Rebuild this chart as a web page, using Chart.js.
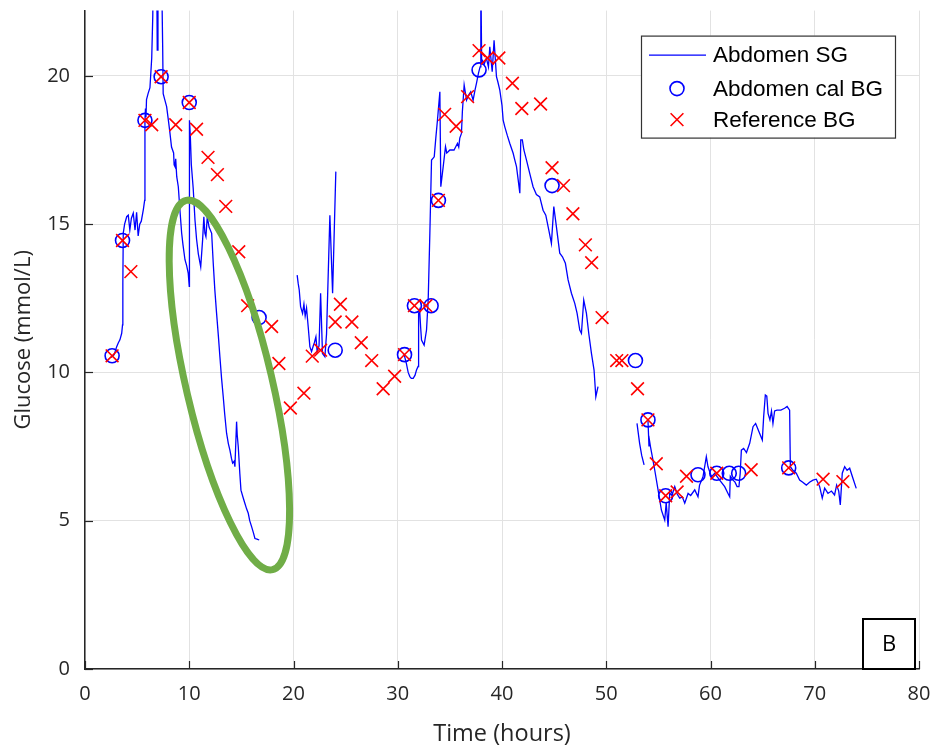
<!DOCTYPE html>
<html>
<head>
<meta charset="utf-8">
<script src="https://cdn.jsdelivr.net/npm/chart.js@4"></script>
<style>
  html, body { margin: 0; padding: 0; background: #fff; }
</style>
</head>
<body>
<canvas id="glucose_graph" width="935" height="751"></canvas>
<script>
// sensor glucose trace (null = gap in the record)
const sgTime = [
  2.5, 2.8, 3.04, 3.2, 3.35, 3.52, 3.6, 3.63, 3.67, 3.8, 4.0, 4.15, 4.3, 4.45, 4.63, 4.8, 4.95, 5.1, 5.25, 5.4, 5.6, 5.72,
  5.75, 5.8, 5.85, 5.9, 6.05, 6.23, 6.4, 6.5, 6.55, 6.88, 6.93, 7.0, 7.35, 7.45, 7.5, 7.65, 7.83, 8.0, 8.15, 8.3, 8.5,
  8.55, 8.63, 8.7, 8.8, 8.95, 9.1, 9.27, 9.4, 9.59, 9.75, 9.9, 10.0, 10.02, 10.1, 10.2, 10.38, 10.55, 10.7, 10.87, 11.1,
  11.28, 11.4, 11.5, 11.6, 11.73, 11.9, 12.15, 12.3, 12.45, 12.62, 12.8, 12.94, 13.1, 13.26, 13.4, 13.58, 13.75, 13.9,
  14.05, 14.16, 14.3, 14.38, 14.54, 14.6, 14.7, 14.85, 14.96, 15.15, 15.34, 15.5, 15.66, 15.8, 15.98, 16.15, 16.3, 16.5, 16.71,
  16.8,
  20.35, 20.45, 20.55, 20.68, 20.87, 21.0, 21.12, 21.25, 21.41, 21.57, 21.73, 21.9, 22.0, 22.15, 22.27, 22.45, 22.6, 22.78,
  23.01, 23.17, 23.49, 23.75, 24.06,
  24.2,
  30.5, 30.65, 30.83, 31.0, 31.16, 31.3, 31.48, 31.65, 31.8, 31.95, 32.0, 32.1, 32.2, 32.28, 32.53, 32.76, 32.92, 33.08,
  33.24, 33.5, 33.65, 33.81, 34.04, 34.13, 34.36, 34.58, 34.7, 34.83, 35.0, 35.16, 35.4, 35.55, 35.73, 35.85, 35.95, 36.11,
  36.2, 36.37, 36.6, 36.8, 37.0, 37.23, 37.4, 37.55, 37.75, 37.9, 37.97, 38.05, 38.1, 38.3, 38.5, 38.7, 38.83, 39.06, 39.24,
  39.47, 39.6, 39.79, 40.0, 40.11, 40.27, 40.5, 40.75, 41.07, 41.2, 41.39, 41.55, 41.71, 41.8, 41.95, 42.1, 42.35, 42.66,
  42.98, 43.3, 43.62, 43.94, 44.2, 44.49, 44.74, 44.97, 45.22, 45.54, 45.8, 46.08, 46.34, 46.66, 46.98, 47.2, 47.46, 47.62,
  47.84, 48.1, 48.32, 48.58, 48.83, 49.0, 49.21,
  49.4,
  52.95, 53.2, 53.4, 53.63,
  53.8,
  54.0, 54.1, 54.15, 54.24, 54.45, 54.65, 54.97, 55.29, 55.61, 55.75, 55.93, 56.09, 56.3, 56.57, 56.8, 57.05, 57.3, 57.53,
  57.85, 58.1, 58.49, 58.8, 58.95, 59.28, 59.6, 59.76, 60.09, 60.4, 60.88, 61.36, 61.68, 61.84, 61.9, 62.16, 62.35, 62.55,
  62.73, 62.85, 62.96, 63.18, 63.45, 63.76, 64.08, 64.33, 64.65, 64.97, 65.1, 65.26, 65.4, 65.52, 65.7, 65.85, 65.99, 66.15,
  66.38, 66.75, 67.11, 67.35, 67.59, 67.66, 67.9, 68.23, 68.55, 68.85, 69.19, 69.5, 69.83, 70.15, 70.47, 70.72, 70.95, 71.27,
  71.6, 71.9, 72.1, 72.3, 72.45, 72.64, 72.87, 73.1, 73.35, 73.66, 73.98
];
const sgGlucose = [
  10.5, 10.6, 10.87, 11.0, 11.1, 11.32, 11.6, 13.0, 14.7, 15.0, 15.25, 15.3, 14.8, 15.2, 15.37, 14.8, 15.4, 14.6, 15.0, 15.1, 15.5, 15.8,
  18.5, 18.9, 18.6, 19.2, 19.4, 19.6, 20.6, 22.0, 23.5, 23.5, 20.87, 23.5, 23.5, 21.0, 19.4, 19.2, 18.96, 18.5, 18.07, 17.6, 17.4,
  17.0, 16.94, 17.2, 16.6, 16.26, 15.5, 14.7, 14.3, 13.8, 13.6, 13.35, 12.9, 18.5, 18.0, 17.0, 16.2, 15.14, 14.5, 14.0, 13.56,
  14.46, 15.25, 14.7, 14.58, 15.25, 14.9, 14.69, 13.69, 12.8, 12.0, 11.2, 10.53, 9.8, 9.18, 8.6, 7.95, 7.6, 7.38,
  7.1, 6.94, 7.0, 6.82, 8.34, 7.9, 7.5, 6.6, 6.03, 5.8, 5.58, 5.4, 5.25, 5.0, 4.8, 4.6, 4.4, 4.38, 4.35,
  null,
  13.28, 13.0, 12.78, 12.22, 11.99, 12.3, 11.9, 12.17, 11.54, 10.87, 10.7, 10.9, 11.0, 11.2, 10.7, 10.9, 12.67, 10.64,
  10.53, 11.3, 15.3, 12.67, 16.77,
  null,
  10.6, 10.55, 10.3, 10.0, 9.86, 9.8, 9.8, 9.9, 10.08, 10.2, 11.99, 12.1, 11.5, 11.09, 10.92, 11.43, 12.44, 14.69,
  17.16, 17.27, 17.9, 18.51, 19.46, 16.26, 16.94, 17.61, 17.4, 17.44, 17.5, 17.5, 17.5, 17.6, 17.72, 17.6, 17.9, 18.06,
  18.8, 19.69, 19.18, 19.35, 19.46, 19.18, 19.5, 19.75, 20.1, 20.3, 23.5, 20.4, 20.53, 20.4, 20.6, 20.3, 20.98, 20.14, 21.2,
  19.97, 19.8, 19.52, 19.0, 18.51, 18.28, 18.0, 17.72, 17.39, 17.2, 16.94, 16.5, 16.04, 17.84, 17.84, 17.5, 17.16, 16.71,
  16.26, 16.0, 15.92, 15.47, 15.3, 14.8, 14.35, 15.59, 14.91, 14.02, 13.9, 13.68, 13.12, 12.67, 12.33, 12.0, 11.43, 11.32,
  12.44, 11.99, 11.32, 10.64, 10.08, 9.18, 9.52,
  null,
  8.28, 7.61, 7.2, 6.88,
  null,
  8.4, 7.5, 7.7, 7.5, 7.1, 6.71, 6.04, 5.36, 5.02, 5.6, 4.8, 5.93, 5.85, 6.15, 5.9, 5.76, 5.8, 5.59,
  5.92, 5.85, 6.04, 5.81, 6.2, 6.48, 7.16, 6.82, 6.48, 6.6, 6.37, 6.15, 5.92, 5.81, 6.5, 6.37, 6.3, 6.15,
  6.15, 6.6, 7.38, 7.44, 7.3, 7.61, 8.17, 8.28, 8.0, 7.72, 8.51, 9.24, 9.2, 8.62, 8.4, 8.7, 8.28, 8.7,
  8.73, 8.73, 8.79, 8.85, 8.73, 6.82, 6.7, 6.6, 6.37, 6.3, 6.2, 6.3, 6.37, 6.4, 6.15, 5.76, 6.1, 5.92,
  6.0, 5.87, 6.2, 6.0, 5.53, 6.6, 6.82, 6.7, 6.77, 6.43, 6.09
];

// calibration blood glucose
const calTime = [2.6, 3.6, 5.75, 7.3, 10.0, 16.7, 24.0, 30.65, 31.6, 33.2, 33.9, 37.8, 44.8, 52.8, 54.0, 55.7, 58.8, 60.6, 61.8, 62.7, 67.5];
const calGlucose = [10.56, 14.45, 18.5, 19.97, 19.1, 11.85, 10.75, 10.6, 12.25, 12.25, 15.8, 20.2, 16.3, 10.4, 8.4, 5.84, 6.55, 6.6, 6.6, 6.6, 6.78];

// reference blood glucose
const refTime = [2.6, 3.6, 4.4, 5.75, 6.4, 7.3, 8.7, 10.0, 10.7, 11.8, 12.7, 13.5, 14.75, 15.6, 17.9, 18.6, 19.7, 21.0, 21.8, 22.6,
  24.0, 24.5, 25.6, 26.5, 27.5, 28.6, 29.7, 30.65, 31.6, 32.7, 33.9, 34.5, 35.6, 36.7, 37.8, 38.6, 39.7, 41.0, 41.9, 43.7,
  44.8, 45.9, 46.8, 48.0, 48.6, 49.6, 51.0, 51.5, 53.0, 54.0, 54.8, 55.7, 56.8, 57.7, 60.6, 63.9, 67.5, 70.8, 72.7];
const refGlucose = [10.56, 14.45, 13.4, 18.5, 18.35, 19.97, 18.35, 19.1, 18.2, 17.25, 16.67, 15.6, 14.07, 12.25, 11.55, 10.3, 8.8, 9.3, 10.55, 10.75,
  11.7, 12.3, 11.7, 11.0, 10.4, 9.45, 9.87, 10.6, 12.25, 12.25, 15.8, 18.7, 18.3, 19.3, 20.85, 20.6, 20.6, 19.75, 18.9, 19.05,
  16.9, 16.3, 15.35, 14.3, 13.7, 11.85, 10.4, 10.4, 9.45, 8.4, 6.92, 5.84, 5.97, 6.5, 6.6, 6.72, 6.78, 6.4, 6.32];

const seriesNames = ['Abdomen SG', 'Abdomen cal BG', 'Reference BG'];
// green highlight ellipse: the two tips of its long axis, in data units
const ellipseTips = [[9.7, 15.8], [18.0, 3.35]];
const panelLabel = 'B';

const TEXT = '#262626';
const FONT = "'Open Sans', sans-serif";

function pairs(xs, ys) {
  return xs.map((x, i) => ({x: x, y: ys[i]}));
}

// keep the plot area where the layout padding puts it
function fixBox(scale, size) {
  if (scale.isHorizontal()) scale.height = size; else scale.width = size;
  scale.paddingTop = 0;
  scale.paddingBottom = 0;
  scale.paddingLeft = 0;
  scale.paddingRight = 0;
}

// ticks drawn inward like the original figure
const insideTicks = {
  id: 'insideTicks',
  afterDatasetsDraw(chart) {
    const {ctx, chartArea, scales: {x, y}} = chart;
    ctx.save();
    ctx.strokeStyle = TEXT;
    ctx.lineWidth = 1.2;
    x.ticks.forEach(t => {
      const px = Math.round(x.getPixelForValue(t.value)) + 0.5;
      ctx.beginPath();
      ctx.moveTo(px, chartArea.bottom);
      ctx.lineTo(px, chartArea.bottom - 8);
      ctx.stroke();
    });
    y.ticks.forEach(t => {
      const py = Math.round(y.getPixelForValue(t.value)) + 0.5;
      ctx.beginPath();
      ctx.moveTo(chartArea.left, py);
      ctx.lineTo(chartArea.left + 8, py);
      ctx.stroke();
    });
    ctx.restore();
  }
};

const highlight = {
  id: 'highlight',
  afterDatasetsDraw(chart) {
    const {ctx, scales: {x, y}} = chart;
    const p1 = [x.getPixelForValue(ellipseTips[0][0]), y.getPixelForValue(ellipseTips[0][1])];
    const p2 = [x.getPixelForValue(ellipseTips[1][0]), y.getPixelForValue(ellipseTips[1][1])];
    const cx = (p1[0] + p2[0]) / 2, cy = (p1[1] + p2[1]) / 2;
    const rx = Math.hypot(p2[0] - p1[0], p2[1] - p1[1]) / 2;
    const ang = Math.atan2(p2[1] - p1[1], p2[0] - p1[0]);
    ctx.save();
    ctx.strokeStyle = '#70ad47';
    ctx.lineWidth = 7;
    ctx.beginPath();
    ctx.ellipse(cx, cy, rx, 43, ang, 0, Math.PI * 2);
    ctx.stroke();
    ctx.restore();
  }
};

const boxLegend = {
  id: 'boxLegend',
  afterDraw(chart) {
    const {ctx, chartArea} = chart;
    const left = chartArea.right - 278, top = chartArea.top + 25;
    const w = 254, h = 102;
    ctx.save();
    ctx.fillStyle = '#fff';
    ctx.fillRect(left, top, w, h);
    ctx.strokeStyle = '#333';
    ctx.lineWidth = 1.2;
    ctx.strokeRect(left + 0.5, top + 0.5, w, h);
    const rows = [top + 19, top + 53, top + 84];
    const mx = left + 36;
    // line sample
    ctx.strokeStyle = '#0000ff';
    ctx.lineWidth = 1.3;
    ctx.beginPath();
    ctx.moveTo(left + 8, rows[0] + 0.5);
    ctx.lineTo(left + 65, rows[0] + 0.5);
    ctx.stroke();
    // circle sample
    ctx.lineWidth = 1.6;
    ctx.beginPath();
    ctx.arc(mx, rows[1], 7, 0, Math.PI * 2);
    ctx.stroke();
    // cross sample
    ctx.strokeStyle = '#ff0000';
    ctx.beginPath();
    ctx.moveTo(mx - 6.4, rows[2] - 6.4); ctx.lineTo(mx + 6.4, rows[2] + 6.4);
    ctx.moveTo(mx + 6.4, rows[2] - 6.4); ctx.lineTo(mx - 6.4, rows[2] + 6.4);
    ctx.stroke();
    ctx.fillStyle = '#000';
    ctx.font = "22.5px 'Liberation Sans', Arial, sans-serif";
    ctx.textBaseline = 'middle';
    ctx.textAlign = 'left';
    seriesNames.forEach((n, i) => ctx.fillText(n, left + 72, rows[i] + 1));

    // panel label box
    const bw = 52, bh = 50;
    const bl = chartArea.right - 56, bt = chartArea.bottom - bh;
    ctx.fillStyle = '#fff';
    ctx.fillRect(bl, bt, bw, bh);
    ctx.strokeStyle = '#000';
    ctx.lineWidth = 2;
    ctx.strokeRect(bl, bt, bw, bh);
    ctx.fillStyle = '#000';
    ctx.font = '22px ' + FONT;
    ctx.textAlign = 'center';
    ctx.fillText(panelLabel, bl + bw / 2, bt + bh / 2 + 1);
    ctx.restore();
  }
};

const ctx = document.getElementById('glucose_graph').getContext('2d');
const chart = new Chart(ctx, {
  type: 'line',
  data: {
    datasets: [
      {
        label: seriesNames[0],
        data: pairs(sgTime, sgGlucose),
        borderColor: '#0000ff',
        borderWidth: 1.3,
        pointRadius: 0,
        tension: 0,
        spanGaps: false,
        order: 3
      },
      {
        label: seriesNames[1],
        data: pairs(calTime, calGlucose),
        showLine: false,
        pointStyle: 'circle',
        pointRadius: 7,
        pointBorderWidth: 1.6,
        pointBorderColor: '#0000ff',
        pointBackgroundColor: 'rgba(0,0,0,0)',
        order: 2
      },
      {
        label: seriesNames[2],
        data: pairs(refTime, refGlucose),
        showLine: false,
        pointStyle: 'crossRot',
        pointRadius: 9,
        pointBorderWidth: 1.6,
        pointBorderColor: '#ff0000',
        order: 1
      }
    ]
  },
  options: {
    responsive: false,
    animation: false,
    events: [],
    layout: { padding: { left: 0, right: 16, top: 10, bottom: 0 } },
    plugins: {
      legend: { display: false },
      tooltip: { enabled: false }
    },
    scales: {
      x: {
        type: 'linear',
        min: 0,
        max: 80,
        ticks: { stepSize: 10, color: TEXT, padding: 13, font: { family: FONT, size: 20 }, maxRotation: 0 },
        grid: { color: '#e2e2e2', lineWidth: 1, drawTicks: false },
        border: { color: TEXT, width: 1.5 },
        title: { display: true, text: 'Time (hours)', color: TEXT, font: { family: FONT, size: 23.5 }, padding: { top: 0, bottom: 3 } },
        afterFit(scale) { fixBox(scale, 82); }
      },
      y: {
        type: 'linear',
        min: 0,
        max: 22.2,
        ticks: { stepSize: 5, includeBounds: false, color: TEXT, padding: 15, font: { family: FONT, size: 20 } },
        grid: { color: '#e2e2e2', lineWidth: 1, drawTicks: false },
        border: { color: TEXT, width: 1.5 },
        title: { display: true, text: 'Glucose (mmol/L)', color: TEXT, font: { family: FONT, size: 22 }, padding: { top: 11, bottom: 0 } },
        afterFit(scale) { fixBox(scale, 85); }
      }
    }
  },
  plugins: [insideTicks, highlight, boxLegend]
});
</script>
</body>
</html>
